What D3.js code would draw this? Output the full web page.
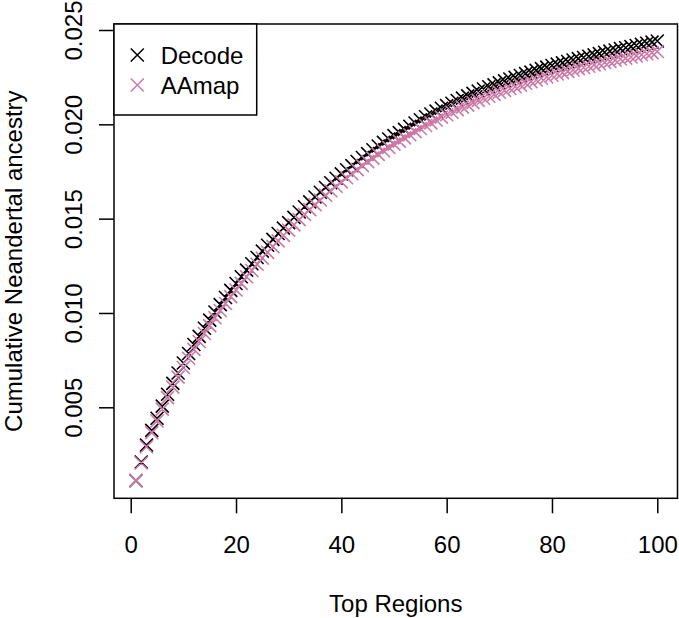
<!DOCTYPE html>
<html>
<head>
<meta charset="utf-8">
<script src="https://cdn.jsdelivr.net/npm/d3@7"></script>
<style>
  html, body { margin: 0; padding: 0; background: #fff; }
  svg { display: block; }
  text { font-family: "Liberation Sans", Arial, Helvetica, sans-serif; fill: #000; }
</style>
</head>
<body>
<svg id="chart" width="679" height="618"></svg>
<script>
// ---- data ----
const regions = d3.range(1, 101);
const decode = [
  0.00111, 0.00210, 0.00300, 0.00378, 0.00442, 0.00506, 0.00569, 0.00627, 0.00682, 0.00735,
  0.00785, 0.00833, 0.00876, 0.00919, 0.00962, 0.01005, 0.01044, 0.01082, 0.01120, 0.01156,
  0.01192, 0.01227, 0.01261, 0.01294, 0.01328, 0.01359, 0.01390, 0.01421, 0.01450, 0.01479,
  0.01507, 0.01535, 0.01563, 0.01589, 0.01615, 0.01640, 0.01665, 0.01690, 0.01714, 0.01737,
  0.01759, 0.01781, 0.01803, 0.01824, 0.01845, 0.01865, 0.01885, 0.01904, 0.01922, 0.01940,
  0.01956, 0.01973, 0.01990, 0.02007, 0.02024, 0.02040, 0.02055, 0.02070, 0.02085, 0.02099,
  0.02112, 0.02126, 0.02139, 0.02151, 0.02164, 0.02176, 0.02187, 0.02199, 0.02209, 0.02220,
  0.02230, 0.02240, 0.02249, 0.02259, 0.02269, 0.02277, 0.02286, 0.02295, 0.02303, 0.02312,
  0.02319, 0.02326, 0.02333, 0.02341, 0.02348, 0.02354, 0.02361, 0.02368, 0.02375, 0.02382,
  0.02388, 0.02394, 0.02401, 0.02406, 0.02412, 0.02418, 0.02424, 0.02430, 0.02436, 0.02442
];
const aamap = [
  0.00111, 0.00205, 0.00291, 0.00366, 0.00428, 0.00490, 0.00551, 0.00607, 0.00660, 0.00711,
  0.00760, 0.00807, 0.00849, 0.00891, 0.00933, 0.00975, 0.01013, 0.01050, 0.01087, 0.01122,
  0.01157, 0.01192, 0.01225, 0.01258, 0.01291, 0.01321, 0.01352, 0.01382, 0.01411, 0.01439,
  0.01467, 0.01495, 0.01523, 0.01548, 0.01574, 0.01599, 0.01624, 0.01648, 0.01672, 0.01695,
  0.01717, 0.01738, 0.01760, 0.01781, 0.01802, 0.01821, 0.01841, 0.01860, 0.01878, 0.01895,
  0.01911, 0.01928, 0.01945, 0.01961, 0.01978, 0.01994, 0.02008, 0.02023, 0.02038, 0.02051,
  0.02064, 0.02078, 0.02091, 0.02102, 0.02115, 0.02127, 0.02138, 0.02149, 0.02159, 0.02170,
  0.02180, 0.02190, 0.02199, 0.02208, 0.02218, 0.02226, 0.02235, 0.02244, 0.02251, 0.02260,
  0.02267, 0.02274, 0.02281, 0.02288, 0.02295, 0.02301, 0.02308, 0.02315, 0.02321, 0.02328,
  0.02334, 0.02340, 0.02346, 0.02351, 0.02357, 0.02363, 0.02369, 0.02374, 0.02380, 0.02386
];
const xTicks = [0, 20, 40, 60, 80, 100];
const yTicks = [0.005, 0.010, 0.015, 0.020, 0.025];
const seriesNames = ["Decode", "AAmap"];
const seriesColors = ["#000000", "#CC79A7"];
const xTitle = "Top Regions";
const yTitle = "Cumulative Neandertal ancestry";

// ---- layout ----
const box = { left: 114, right: 677.5, top: 24, bottom: 498.3 };
const x = d3.scaleLinear().domain([0, 100]).range([130.7, 657.3]);
const y = d3.scaleLinear().domain([0.005, 0.025]).range([407.3, 30]);
const svg = d3.select("#chart");
const FS = 24;
const LW = 1.5;
const CR = 6.5;

function crossPath(cx, cy, r) {
  return `M${cx - r},${cy - r}L${cx + r},${cy + r}M${cx - r},${cy + r}L${cx + r},${cy - r}`;
}

// points
const series = [decode, aamap];
series.forEach((vals, si) => {
  svg.append("path")
    .attr("d", vals.map((v, i) => crossPath(x(regions[i]), y(v), CR)).join(""))
    .attr("fill", "none")
    .attr("stroke", seriesColors[si])
    .attr("stroke-width", 1.6);
});

// box
svg.append("rect")
  .attr("x", box.left).attr("y", box.top)
  .attr("width", box.right - box.left).attr("height", box.bottom - box.top)
  .attr("fill", "none").attr("stroke", "#000").attr("stroke-width", LW);

// x axis
const gx = svg.append("g").attr("transform", `translate(0,${box.bottom})`)
  .call(d3.axisBottom(x).tickValues(xTicks).tickSize(15).tickFormat(d3.format("d")));
gx.select(".domain").remove();
gx.selectAll(".tick line").attr("stroke", "#000").attr("stroke-width", LW);
gx.selectAll(".tick text").attr("y", 54.7).attr("dy", 0)
  .style("font-size", FS + "px").style("font-family", '"Liberation Sans", Arial, sans-serif').attr("fill", "#000");

// y axis
const gy = svg.append("g").attr("transform", `translate(${box.left},0)`)
  .call(d3.axisLeft(y).tickValues(yTicks).tickSize(15).tickFormat(d3.format(".3f")));
gy.select(".domain").remove();
gy.selectAll(".tick line").attr("stroke", "#000").attr("stroke-width", LW);
gy.selectAll(".tick text")
  .attr("transform", "rotate(-90)")
  .attr("x", 0).attr("y", -32).attr("dy", 0)
  .attr("text-anchor", "middle")
  .style("font-size", FS + "px").style("font-family", '"Liberation Sans", Arial, sans-serif').attr("fill", "#000");

// titles
svg.append("text")
  .attr("x", (box.left + box.right) / 2).attr("y", 612)
  .attr("text-anchor", "middle").style("font-size", FS + "px")
  .text(xTitle);
svg.append("text")
  .attr("transform", `translate(22,${(box.top + box.bottom) / 2}) rotate(-90)`)
  .attr("text-anchor", "middle").style("font-size", FS + "px")
  .text(yTitle);

// legend
const leg = svg.append("g");
leg.append("rect")
  .attr("x", box.left).attr("y", box.top)
  .attr("width", 256.7 - box.left).attr("height", 115 - box.top)
  .attr("fill", "#fff").attr("stroke", "#000").attr("stroke-width", LW);
seriesNames.forEach((name, i) => {
  const cy = 55 + i * 30;
  leg.append("path")
    .attr("d", crossPath(137.3, cy, CR))
    .attr("fill", "none").attr("stroke", seriesColors[i]).attr("stroke-width", LW);
  leg.append("text")
    .attr("x", 160.7).attr("y", cy + 8.5)
    .style("font-size", FS + "px")
    .text(name);
});
</script>
</body>
</html>
